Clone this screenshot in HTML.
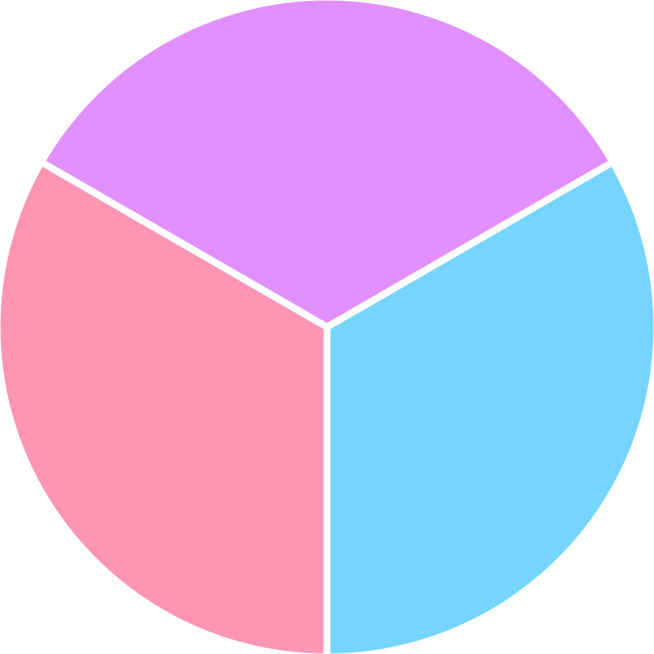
<!DOCTYPE html>
<html>
<head>
<meta charset="utf-8">
<style>
html,body{margin:0;padding:0;background:#fff;width:654px;height:654px;overflow:hidden;}
svg{display:block;}
</style>
</head>
<body>
<svg id="chart" width="654" height="654" viewBox="0 0 654 654" xmlns="http://www.w3.org/2000/svg"></svg>
<script>
const categories = ["blue", "pink", "purple"];
const values = [1, 1, 1];
const colors = ["#76D5FF", "#FF95B5", "#E28FFF"];

const svg = document.getElementById('chart');
const cx = 327, cy = 327, r = 330;
const startDeg = 60; // clockwise from 12 o'clock
const total = values.reduce((a, b) => a + b, 0);
function pt(deg) {
  const a = (deg - 90) * Math.PI / 180;
  return [cx + r * Math.cos(a), cy + r * Math.sin(a)];
}
let acc = startDeg;
values.forEach((v, i) => {
  const sweep = v / total * 360;
  const [x1, y1] = pt(acc);
  const [x2, y2] = pt(acc + sweep);
  const large = sweep > 180 ? 1 : 0;
  const p = document.createElementNS('http://www.w3.org/2000/svg', 'path');
  p.setAttribute('d', `M${cx},${cy} L${x1},${y1} A${r},${r} 0 ${large} 1 ${x2},${y2} Z`);
  p.setAttribute('fill', colors[i]);
  p.setAttribute('stroke', '#fff');
  p.setAttribute('stroke-width', '7');
  p.setAttribute('stroke-linejoin', 'round');
  
  
  svg.appendChild(p);
  acc += sweep;
});
</script>
</body>
</html>
